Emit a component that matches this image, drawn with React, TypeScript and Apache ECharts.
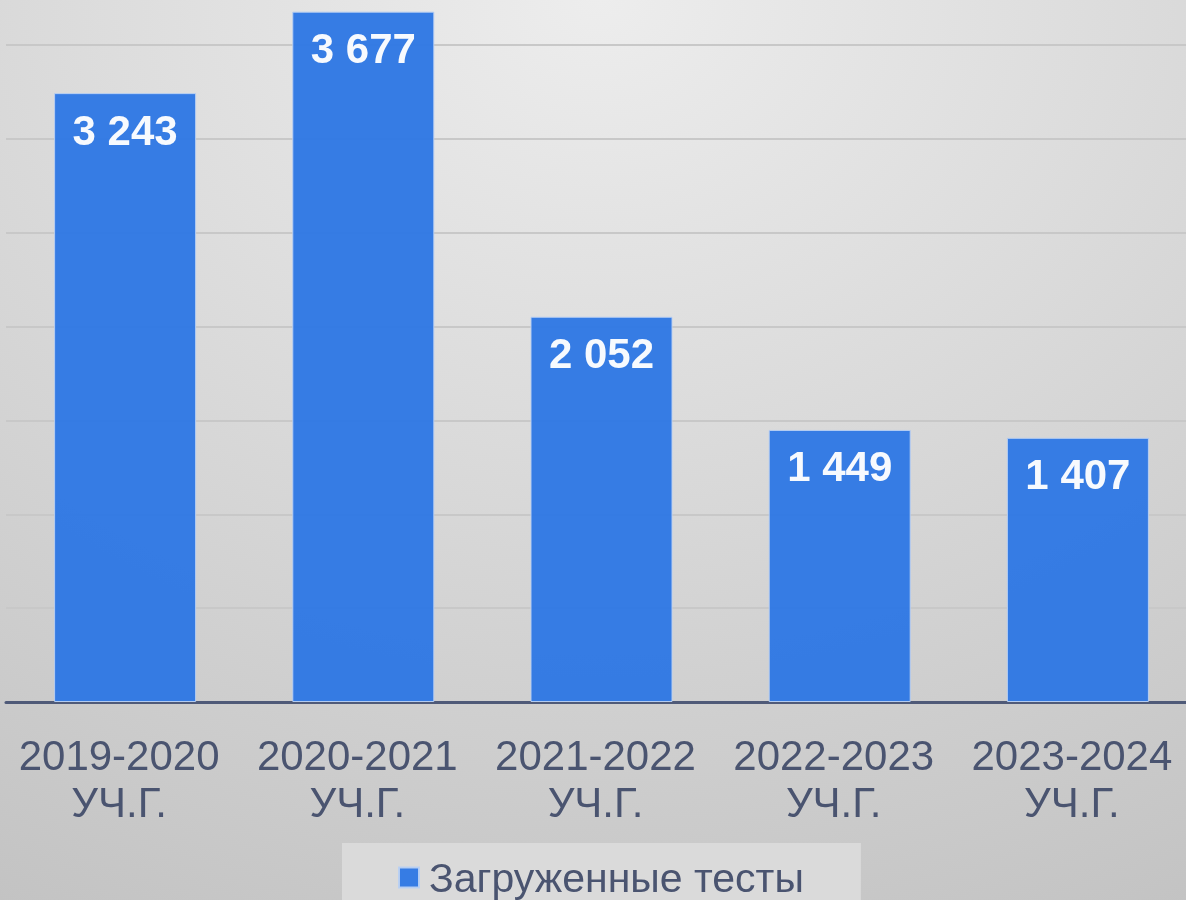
import React, { useEffect, useRef } from "react";
import * as echarts from "echarts";

const categories = [
  "2019-2020\nУЧ.Г.",
  "2020-2021\nУЧ.Г.",
  "2021-2022\nУЧ.Г.",
  "2022-2023\nУЧ.Г.",
  "2023-2024\nУЧ.Г.",
];
const seriesName = "Загруженные тесты";
const values = [3243, 3677, 2052, 1449, 1407];

const fmt = (v: number) => {
  const s = String(v);
  return s.length > 3 ? s.slice(0, s.length - 3) + " " + s.slice(-3) : s;
};

export default function App() {
  const ref = useRef<HTMLDivElement>(null);
  useEffect(() => {
    if (!ref.current) return;
    const chart = echarts.init(ref.current, undefined, { renderer: "svg" });
    chart.setOption({
      animation: false,
      backgroundColor: new echarts.graphic.RadialGradient(0.5, 0.05, 1.1, [
        { offset: 0, color: "#ededed" },
        { offset: 1, color: "#c2c2c2" },
      ]),
      grid: { left: 6, right: 0, top: 0, bottom: 198, containLabel: false },
      legend: {
        left: 342,
        top: 892,
        padding: [14, 57, 30, 56],
        backgroundColor: "#dadada",
        itemWidth: 20,
        itemHeight: 20,
        icon: "rect",
        textStyle: {
          fontSize: 41,
          color: "#4a5470",
          fontFamily: "Liberation Sans",
          padding: [0, 0, 0, 5],
        },
        data: [seriesName],
      },
      xAxis: {
        type: "category",
        data: categories,
        axisTick: { show: false },
        axisLine: { lineStyle: { color: "#4f5a78", width: 3 } },
        axisLabel: {
          interval: 0,
          fontSize: 42,
          lineHeight: 47,
          margin: 30,
          padding: [0, 12, 0, 0],
          color: "#4a5470",
          fontFamily: "Liberation Sans",
        },
      },
      yAxis: {
        type: "value",
        min: 0,
        max: 4000,
        interval: 500,
        axisLabel: { show: false },
        axisLine: { show: false },
        axisTick: { show: false },
        splitLine: { lineStyle: { color: "#c8c8c8", width: 2 } },
      },
      series: [
        {
          name: seriesName,
          type: "bar",
          data: values,
          barWidth: 142,
          itemStyle: {
            color: "#2f78e4",
            borderColor: "#b8cff2",
            borderWidth: 1,
            opacity: 0.96,
          },
          label: {
            show: true,
            position: "insideTop",
            distance: 16,
            fontSize: 42,
            fontWeight: "bold",
            color: "#ffffff",
            fontFamily: "Liberation Sans",
            formatter: (p: any) => fmt(p.value),
          },
        },
      ],
    });
    return () => chart.dispose();
  }, []);
  return (
    <div
      ref={ref}
      style={{ position: "fixed", left: 0, top: -49, width: 1197, height: 949 }}
    />
  );
}
